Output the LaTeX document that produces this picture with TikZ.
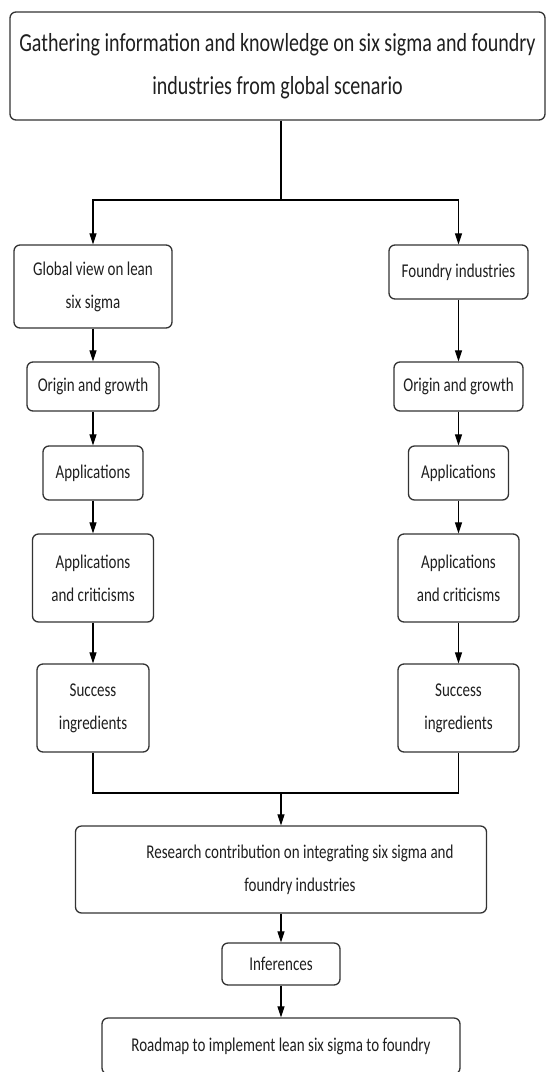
\documentclass[tikz,border=0pt]{standalone}
\usepackage{fontspec}
\setmainfont{Carlito}[FakeStretch=0.77]
\usetikzlibrary{arrows.meta,calc}
\begin{document}
\begin{tikzpicture}[x=1pt,y=-1pt,
  box/.style={draw=black!80, line width=1.3pt, rounded corners=6pt, fill=white, text=black!88, align=center, inner sep=0pt},
  sm/.style={font=\fontsize{19.5}{33}\selectfont},
  arr/.style={line width=1.1pt, draw=black, -{Triangle[length=11pt,width=7pt]}},
  ln/.style={line width=1.1pt, draw=black}]
\useasboundingbox (0,0) rectangle (546,1072);
% top
\node[box, minimum width=535, minimum height=108, font=\fontsize{26}{43}\selectfont] (top) at (277.5,66)
  {Gathering information and knowledge on six sigma and foundry\\industries from global scenario};
% left column
\node[box, sm, minimum width=158, minimum height=83] (L1) at (93,286.5) {Global view on lean\\six sigma};
\node[box, sm, minimum width=132, minimum height=49] (L2) at (93,386.5) {Origin and growth};
\node[box, sm, minimum width=100, minimum height=54] (L3) at (93,473) {Applications};
\node[box, sm, minimum width=121, minimum height=88] (L4) at (93,578) {Applications\\and criticisms};
\node[box, sm, minimum width=112, minimum height=88] (L5) at (93,708) {Success\\ingredients};
% right column
\node[box, sm, minimum width=139, minimum height=54] (R1) at (458.5,272) {Foundry industries};
\node[box, sm, minimum width=129, minimum height=49] (R2) at (458.5,386.5) {Origin and growth};
\node[box, sm, minimum width=100, minimum height=54] (R3) at (458.5,473) {Applications};
\node[box, sm, minimum width=121, minimum height=88] (R4) at (458.5,578) {Applications\\and criticisms};
\node[box, sm, minimum width=121, minimum height=88] (R5) at (458.5,708) {Success\\ingredients};
% bottom
\node[box, minimum width=411, minimum height=87,
  label={[sm, align=center, text=black!88, xshift=19pt]center:Research contribution on integrating six sigma and\\foundry industries}] (res) at (281,869.5) {};
\node[box, sm, minimum width=118, minimum height=42] (inf) at (281,964) {Inferences};
\node[box, sm, minimum width=358, minimum height=56] (road) at (281,1046) {\raisebox{3pt}{Roadmap to implement lean six sigma to foundry}};
% connectors
\coordinate (j1) at (281,200);
\coordinate (j2) at (281,793);
\draw[ln] (j1 |- top.south) -- (j1);
\draw[arr] (j1) -| (L1.north);
\draw[arr] (j1) -| (R1.north);
\draw[arr] (L1) -- (L2);
\draw[arr] (L2) -- (L3);
\draw[arr] (L3) -- (L4);
\draw[arr] (L4) -- (L5);
\draw[arr] (R1) -- (R2);
\draw[arr] (R2) -- (R3);
\draw[arr] (R3) -- (R4);
\draw[arr] (R4) -- (R5);
\draw[ln] (L5.south) |- (j2) -| (R5.south);
\draw[arr] (j2) -- (j2 |- res.north);
\draw[arr] (res) -- (inf);
\draw[arr] (inf) -- (road);
\end{tikzpicture}
\end{document}
